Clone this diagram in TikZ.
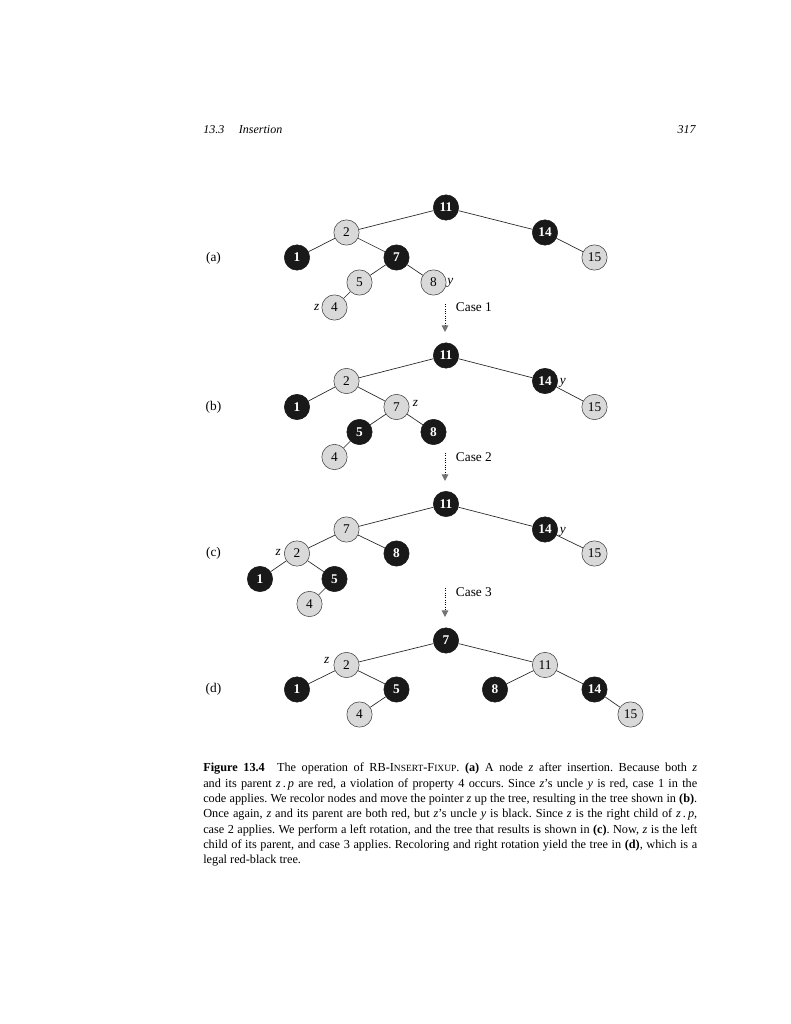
\documentclass[tikz,border=0pt]{standalone}
\usepackage{fontspec}
\setmainfont{Liberation Serif}
\usetikzlibrary{arrows.meta}

\newcommand{\fakesc}[1]{{\fontsize{7.1}{8}\selectfont #1}}

\begin{document}
\begin{tikzpicture}[x=0.75pt, y=-0.75pt,
  blknode/.style={circle, draw=black!90, fill=black!90, text=white, font=\fontsize{10}{12}\selectfont\bfseries, minimum size=19pt, inner sep=0pt},
  rednode/.style={circle, draw=black!75, fill=black!15, text=black, font=\fontsize{10}{12}\selectfont, minimum size=19pt, inner sep=0pt},
  edge/.style={draw=black!85, line width=0.5pt},
  casearrow/.style={densely dotted, line width=0.75pt, -{Triangle[width=5pt,length=5pt,color=black!55]}},
  txt/.style={font=\fontsize{10}{12}\selectfont, inner sep=0pt}]

% page
\fill[white] (0,0) rectangle (791,1024);
\useasboundingbox (0,0) rectangle (791,1024);

% Running head
\node[anchor=base west, inner sep=0pt, font=\fontsize{9}{11}\selectfont\itshape] (headl) at (203, 133.4) {13.3\hspace{11pt}Insertion};
\node[anchor=base east, inner sep=0pt, font=\fontsize{9}{11}\selectfont\itshape] (headr) at (696, 133.4) {317};

% Tree (a)
\node[txt] (lbla) at (213.5, 258) {(a)};
\node[blknode] (a11) at (446, 207.5) {11};
\node[rednode] (a2) at (346.5, 232.5) {2};
\node[blknode] (a14) at (545, 232.5) {14};
\node[blknode] (a1) at (297, 257.5) {1};
\node[blknode] (a7) at (396.5, 257.5) {7};
\node[rednode] (a15) at (594.5, 257.5) {15};
\node[rednode] (a5) at (359.5, 282.5) {5};
\node[rednode] (a8) at (433.5, 282.5) {8};
\node[rednode] (a4) at (334.5, 307.5) {4};
\draw[edge] (a11) -- (a2) (a11) -- (a14) (a2) -- (a1) (a2) -- (a7)
  (a14) -- (a15) (a7) -- (a5) (a7) -- (a8) (a5) -- (a4);
\node[txt, anchor=base west] (ay) at (447, 284.5) {\textit{y}};
\node[txt, anchor=base east] (az) at (319.5, 310.5) {\textit{z}};

% Case 1
\node[txt, anchor=base west] (case1) at (455.7, 311.5) {Case 1};
\coordinate (c1top) at (445, 304);
\coordinate (c1bot) at (445, 332);
\draw[casearrow] (c1top) -- (c1bot);

% Tree (b)
\node[txt] (lblb) at (213.5, 407) {(b)};
\node[blknode] (b11) at (446, 355.5) {11};
\node[rednode] (b2) at (346.5, 381) {2};
\node[blknode] (b14) at (545, 381) {14};
\node[blknode] (b1) at (297, 407) {1};
\node[rednode] (b7) at (396.5, 407) {7};
\node[rednode] (b15) at (594.5, 407) {15};
\node[blknode] (b5) at (359.5, 432) {5};
\node[blknode] (b8) at (433.5, 432) {8};
\node[rednode] (b4) at (334.5, 457) {4};
\draw[edge] (b11) -- (b2) (b11) -- (b14) (b2) -- (b1) (b2) -- (b7)
  (b14) -- (b15) (b7) -- (b5) (b7) -- (b8) (b5) -- (b4);
\node[txt, anchor=base west] (by) at (559.5, 384.7) {\textit{y}};
\node[txt, anchor=base west] (bz) at (412.5, 406.5) {\textit{z}};

% Case 2
\node[txt, anchor=base west] (case2) at (455.7, 461.5) {Case 2};
\coordinate (c2top) at (445, 453);
\coordinate (c2bot) at (445, 481);
\draw[casearrow] (c2top) -- (c2bot);

% Tree (c)
\node[txt] (lblc) at (213.5, 553.5) {(c)};
\node[blknode] (c11) at (446, 504) {11};
\node[rednode] (c7) at (346.5, 529.5) {7};
\node[blknode] (c14) at (545, 529.5) {14};
\node[rednode] (c2) at (297, 553.5) {2};
\node[blknode] (c8) at (396.5, 553.5) {8};
\node[rednode] (c15) at (594.5, 553.5) {15};
\node[blknode] (c1) at (260, 579) {1};
\node[blknode] (c5) at (334.5, 579) {5};
\node[rednode] (c4) at (309.5, 604) {4};
\draw[edge] (c11) -- (c7) (c11) -- (c14) (c7) -- (c2) (c7) -- (c8)
  (c14) -- (c15) (c2) -- (c1) (c2) -- (c5) (c5) -- (c4);
\node[txt, anchor=base west] (cy) at (559.5, 533.2) {\textit{y}};
\node[txt, anchor=base east] (cz) at (281, 555.5) {\textit{z}};

% Case 3
\node[txt, anchor=base west] (case3) at (455.7, 596) {Case 3};
\coordinate (c3top) at (445, 588);
\coordinate (c3bot) at (445, 617);
\draw[casearrow] (c3top) -- (c3bot);

% Tree (d)
\node[txt] (lbld) at (213.5, 689.5) {(d)};
\node[blknode] (d7) at (446, 640.5) {7};
\node[rednode] (d2) at (346.5, 665) {2};
\node[rednode] (d11) at (545, 665) {11};
\node[blknode] (d1) at (297, 689.5) {1};
\node[blknode] (d5) at (396.5, 689.5) {5};
\node[blknode] (d8) at (495, 689.5) {8};
\node[blknode] (d14) at (594.5, 689.5) {14};
\node[rednode] (d4) at (359.5, 714.5) {4};
\node[rednode] (d15) at (630.5, 714.5) {15};
\draw[edge] (d7) -- (d2) (d7) -- (d11) (d2) -- (d1) (d2) -- (d5)
  (d11) -- (d8) (d11) -- (d14) (d5) -- (d4) (d14) -- (d15);
\node[txt, anchor=base east] (dz) at (329.5, 663) {\textit{z}};

% Caption
\node[anchor=north west, inner sep=0pt, text width=370.5pt, align=justify,
  font=\fontsize{9.2}{11.5}\selectfont] (caption) at (203, 763) {\frenchspacing
  \textbf{Figure 13.4}\quad The operation of RB-I\fakesc{NSERT}-F\fakesc{IXUP}. \textbf{(a)} A node \textit{z} after insertion. Because both \textit{z}\linebreak
  and its parent \textit{z}\,.\,\textit{p} are red, a violation of property 4 occurs. Since \textit{z}'s uncle \textit{y} is red, case 1 in the\linebreak
  code applies. We recolor nodes and move the pointer \textit{z} up the tree, resulting in the tree shown in \textbf{(b)}.\linebreak
  Once again, \textit{z} and its parent are both red, but \textit{z}'s uncle \textit{y} is black. Since \textit{z} is the right child of \textit{z}\,.\,\textit{p},\linebreak
  case 2 applies. We perform a left rotation, and the tree that results is shown in \textbf{(c)}. Now, \textit{z} is the left\linebreak
  child of its parent, and case 3 applies. Recoloring and right rotation yield the tree in \textbf{(d)}, which is a\linebreak
  legal red-black tree.};

\end{tikzpicture}
\end{document}
